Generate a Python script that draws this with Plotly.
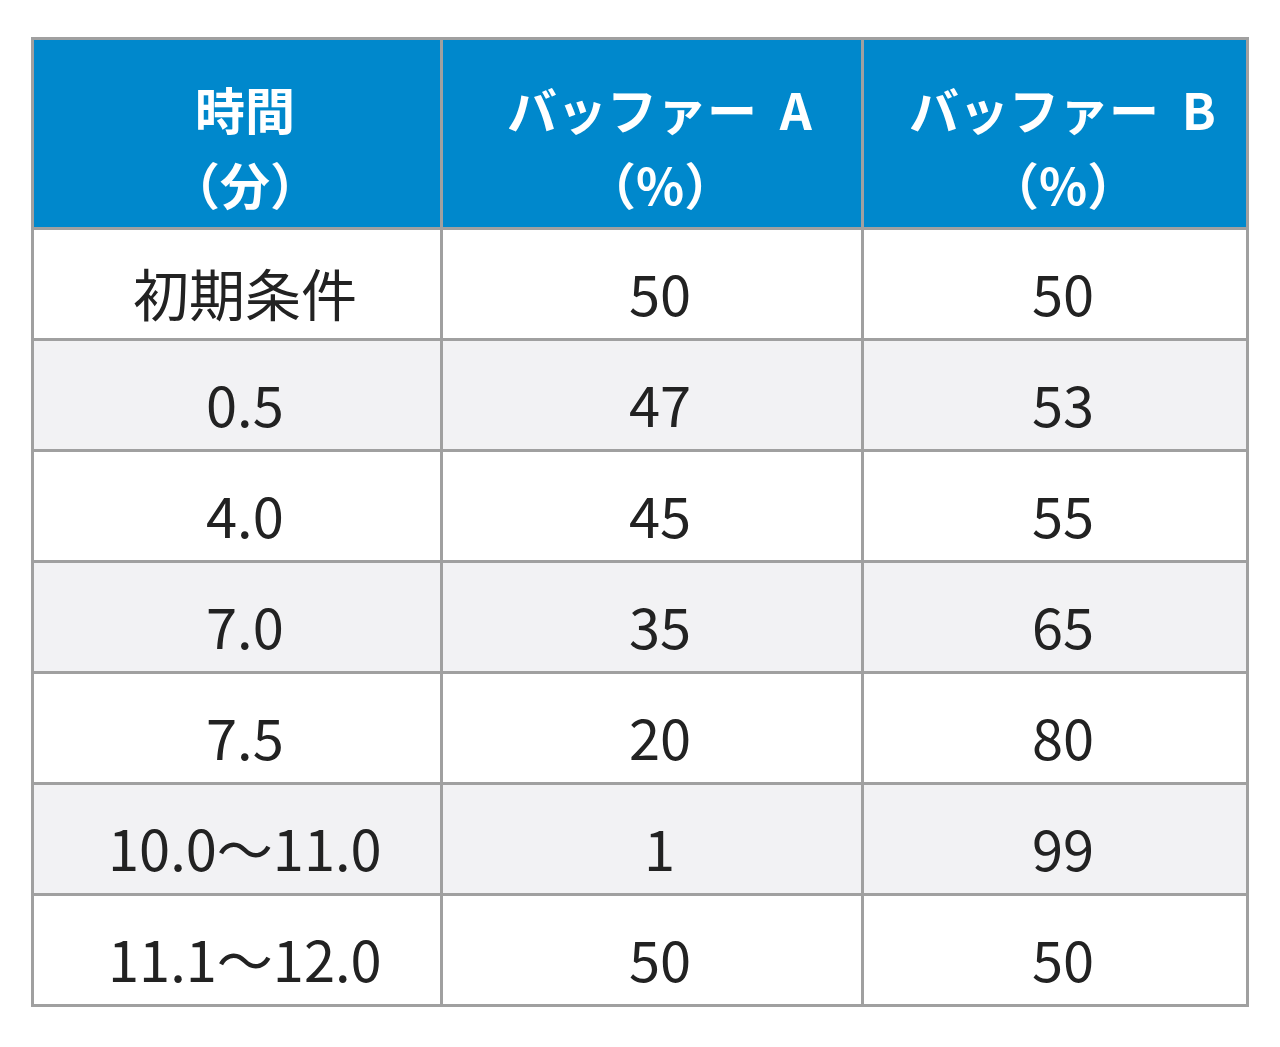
import plotly.graph_objects as go

header_line1 = ["時間", "バッファー  A", "バッファー  B"]
header_line2 = ["（分）", "（%）", "（%）"]
times = ["初期条件", "0.5", "4.0", "7.0", "7.5", "10.0～11.0", "11.1～12.0"]
buffer_a = ["50", "47", "45", "35", "20", "1", "50"]
buffer_b = ["50", "53", "55", "65", "80", "99", "50"]

W, H = 1280, 1047
left, top = 32, 38
col_w = [409, 421, 385]
head_h, row_h = 190, 111
font = "Noto Sans CJK JP"

n = len(times)
row_colors = ["#FFFFFF" if i % 2 == 0 else "#F2F2F4" for i in range(n)]

fig = go.Figure(go.Table(
    columnwidth=col_w,
    header=dict(values=["", "", ""], fill_color="#0088CC",
                line=dict(color="#A0A0A0", width=3), height=head_h),
    cells=dict(values=[[""] * n] * 3, fill_color=[row_colors] * 3,
               line=dict(color="#A0A0A0", width=3), height=row_h),
    domain=dict(x=[(left - 8) / W, (left - 8 + sum(col_w)) / W],
                y=[0, 1 - (top - 8) / H]),
))

centers = []
x0 = left
for w in col_w:
    centers.append(x0 + w / 2)
    x0 += w

def ann(x, y, text, size, color, weight="normal"):
    fig.add_annotation(x=x / W, y=1 - y / H, xref="paper", yref="paper",
                       text=text, showarrow=False, xanchor="center", yanchor="middle",
                       font=dict(size=size, color=color, family=font, weight=weight))

for j in range(3):
    ann(centers[j], top + 62, header_line1[j], 50, "white", "bold")
    ann(centers[j], top + 137, header_line2[j], 50, "white", "bold")

for i in range(n):
    y = top + head_h + row_h * (i + 0.5)
    for j, col in enumerate([times, buffer_a, buffer_b]):
        ann(centers[j], y, col[i], 56, "#222222")

fig.update_layout(width=W, height=H, margin=dict(l=0, r=0, t=0, b=0),
                  paper_bgcolor="white")
fig.write_html("out.html")
